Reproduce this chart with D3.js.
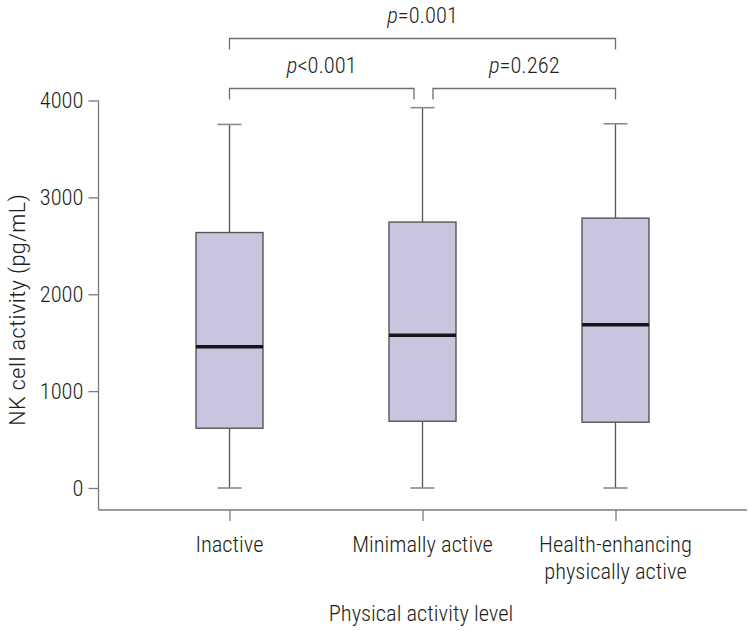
<!DOCTYPE html>
<html>
<head>
<meta charset="utf-8">
<script src="https://cdn.jsdelivr.net/npm/d3@7/dist/d3.min.js"></script>
<style>
  html, body { margin: 0; padding: 0; background: #fff; }
  svg { display: block; }
  text { font-family: "Roboto Condensed", "Liberation Sans Narrow", "Arial Narrow", Roboto, sans-serif; font-weight: 300; fill: #231f20; }
</style>
</head>
<body>
<svg id="chart" width="751" height="631"></svg>
<script>
// ---- Data ----
const categories = ["Inactive", "Minimally active", "Health-enhancing physically active"];
const categoryLines = [["Inactive"], ["Minimally active"], ["Health-enhancing", "physically active"]];
const whiskerLow  = [0, 0, 0];
const q1          = [617, 689, 679];
const median      = [1457, 1577, 1684];
const q3          = [2637, 2745, 2786];
const whiskerHigh = [3753, 3926, 3760];
const yTicks = [0, 1000, 2000, 3000, 4000];
const comparisons = [
  { from: 0, to: 2, label: "=0.001", level: 2 },
  { from: 0, to: 1, label: "<0.001", level: 1 },
  { from: 1, to: 2, label: "=0.262", level: 1 }
];
const yTitle = "NK cell activity (pg/mL)";
const xTitle = "Physical activity level";

// ---- Layout ----
const svg = d3.select("#chart");
const axisColor = "#7a7a7a";
const xAxisY = 510, yAxisX = 98.5;
const fs = 22.5;

const x = d3.scalePoint().domain(categories).range([229.5, 615.5]);
const y = d3.scaleLinear().domain([0, 4000]).range([488, 100.5]);

const boxW = 67, capW = 24;

// Axes lines
svg.append("line").attr("x1", yAxisX).attr("x2", yAxisX).attr("y1", y(4000)).attr("y2", xAxisY)
  .attr("stroke", axisColor).attr("stroke-width", 1.3);
svg.append("line").attr("x1", yAxisX).attr("x2", 747).attr("y1", xAxisY).attr("y2", xAxisY)
  .attr("stroke", axisColor).attr("stroke-width", 1.3);

// Y axis ticks via d3.axisLeft
const yAxis = svg.append("g").attr("transform", `translate(${yAxisX},0)`)
  .call(d3.axisLeft(y).tickValues(yTicks).tickFormat(d3.format("d")).tickSize(10).tickPadding(5));
yAxis.select(".domain").remove();
yAxis.selectAll(".tick line").attr("stroke", axisColor).attr("stroke-width", 1.3);
yAxis.selectAll(".tick text").attr("font-size", fs).attr("fill", "#231f20")
  .style("font-family", '"Roboto Condensed", "Liberation Sans Narrow", Roboto, sans-serif')
  .style("font-weight", 300);

// X axis ticks
const xAxis = svg.append("g").attr("transform", `translate(0,${xAxisY})`)
  .call(d3.axisBottom(x).tickSize(11).tickFormat(""));
xAxis.select(".domain").remove();
xAxis.selectAll(".tick line").attr("stroke", axisColor).attr("stroke-width", 1.3);

// X category labels
categories.forEach((c, i) => {
  categoryLines[i].forEach((ln, j) => {
    svg.append("text").attr("x", x(c)).attr("y", 552 + j * 27).attr("text-anchor", "middle")
      .attr("font-size", fs).text(ln);
  });
});

// Titles
svg.append("text").attr("x", 421).attr("y", 621).attr("text-anchor", "middle")
  .attr("font-size", fs).text(xTitle);
svg.append("text").attr("transform", "translate(25,310) rotate(-90)").attr("text-anchor", "middle")
  .attr("font-size", fs).attr("textLength", 232).attr("lengthAdjust", "spacingAndGlyphs").text(yTitle);

// Boxes
const g = svg.append("g");
categories.forEach((c, i) => {
  const cx = x(c);
  g.append("line").attr("x1", cx).attr("x2", cx).attr("y1", y(whiskerHigh[i])).attr("y2", y(q3[i]))
    .attr("stroke", "#555").attr("stroke-width", 1.3);
  g.append("line").attr("x1", cx).attr("x2", cx).attr("y1", y(q1[i])).attr("y2", y(whiskerLow[i]))
    .attr("stroke", "#555").attr("stroke-width", 1.3);
  [whiskerHigh[i], whiskerLow[i]].forEach(v => {
    g.append("line").attr("x1", cx - capW / 2).attr("x2", cx + capW / 2).attr("y1", y(v)).attr("y2", y(v))
      .attr("stroke", "#8a8a8a").attr("stroke-width", 1.6);
  });
  g.append("rect").attr("x", cx - boxW / 2).attr("width", boxW)
    .attr("y", y(q3[i])).attr("height", y(q1[i]) - y(q3[i]))
    .attr("fill", "#c8c6df").attr("stroke", "#555").attr("stroke-width", 1.4);
  g.append("line").attr("x1", cx - boxW / 2).attr("x2", cx + boxW / 2).attr("y1", y(median[i])).attr("y2", y(median[i]))
    .attr("stroke", "#1a1416").attr("stroke-width", 3.5);
});

// Significance brackets
const levelY = { 1: 88.5, 2: 38.5 };
const dropLen = 11;
comparisons.forEach(cmp => {
  let x1 = x(categories[cmp.from]), x2 = x(categories[cmp.to]);
  if (cmp.level === 1) {
    if (cmp.to === 1) x2 -= 8.5;
    if (cmp.from === 1) x1 += 10.5;
  }
  const by = levelY[cmp.level];
  svg.append("path")
    .attr("d", `M${x1},${by + dropLen}V${by}H${x2}V${by + dropLen}`)
    .attr("fill", "none").attr("stroke", "#6e6e6e").attr("stroke-width", 1.3);
  const t = svg.append("text").attr("x", (x1 + x2) / 2).attr("y", by - 16).attr("text-anchor", "middle")
    .attr("font-size", fs);
  t.append("tspan").attr("font-style", "italic").text("p");
  t.append("tspan").text(cmp.label);
});
</script>
</body>
</html>
